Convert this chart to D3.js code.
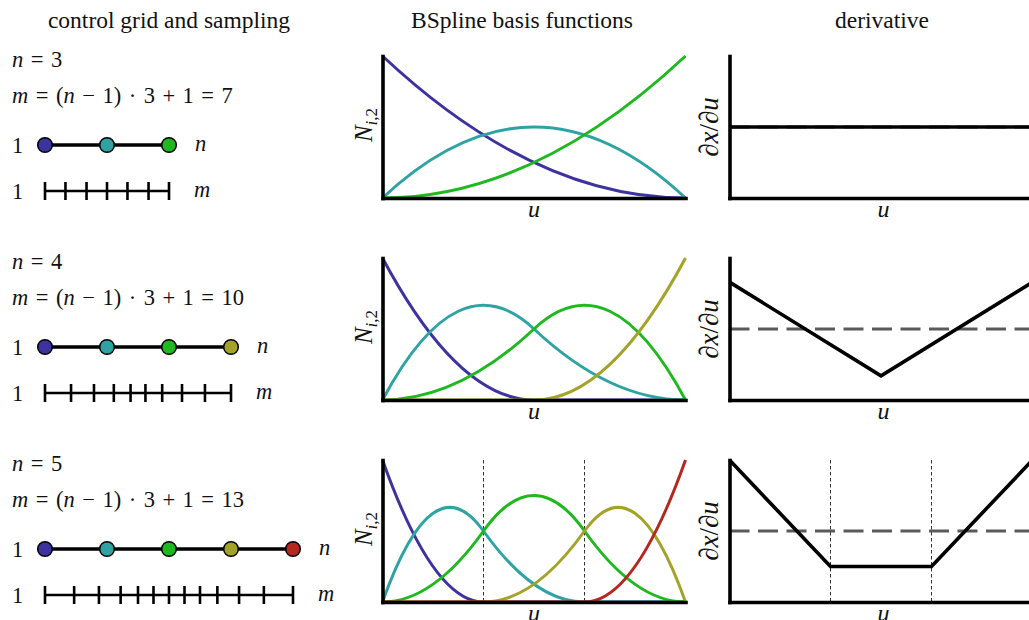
<!DOCTYPE html>
<html>
<head>
<meta charset="utf-8">
<script src="https://cdn.jsdelivr.net/npm/d3@7"></script>
<style>
  html, body { margin: 0; padding: 0; background: #ffffff; }
  svg { display: block; }
  text { font-family: "Liberation Serif", "DejaVu Serif", serif; fill: #111; white-space: pre; }
  .it { font-style: italic; }
</style>
</head>
<body>
<svg id="fig" width="1029" height="620"></svg>
<script>
// ---- chart values ----
const columnTitles = ["control grid and sampling", "BSpline basis functions", "derivative"];
const controlCounts = [3, 4, 5];
const sampleCounts = [7, 10, 13];
const pointColors = ["#3c33a1", "#2fa3a3", "#1fb81f", "#a3a32b", "#b5281f"];

// sample positions along the control grid (grid units, 0 .. n-1)
const samples3 = [0, 0.33, 0.67, 1, 1.33, 1.67, 2];
const samples4 = [0, 0.42, 0.79, 1.11, 1.38, 1.62, 1.89, 2.21, 2.58, 3];
const samples5 = [0, 0.47, 0.87, 1.22, 1.5, 1.75, 2, 2.25, 2.5, 2.78, 3.13, 3.53, 4];

// knot spans of the quadratic basis in u
const spans3 = [0, 1];
const spans4 = [0, 0.5, 1];
const spans5 = [0, 1 / 3, 2 / 3, 1];

// Bezier ordinates of every basis function N_{i,2}, one triple per span
const basis3 = [
  [[1, 0, 0]],
  [[0, 1, 0]],
  [[0, 0, 1]]
];
const basis4 = [
  [[1, 0, 0], [0, 0, 0]],
  [[0, 1, 0.5], [0.5, 0, 0]],
  [[0, 0, 0.5], [0.5, 1, 0]],
  [[0, 0, 0], [0, 0, 1]]
];
const basis5 = [
  [[1, 0, 0], [0, 0, 0], [0, 0, 0]],
  [[0, 1, 0.5], [0.5, 0, 0], [0, 0, 0]],
  [[0, 0, 0.5], [0.5, 1, 0.5], [0.5, 0, 0]],
  [[0, 0, 0], [0, 0, 0.5], [0.5, 1, 0]],
  [[0, 0, 0], [0, 0, 0], [0, 0, 1]]
];

// derivative dx/du relative to its mean, as [u, value]
const deriv3 = [[0, 1], [1, 1]];
const deriv4 = [[0, 1.33], [0.5, 0.67], [1, 1.33]];
const deriv5 = [[0, 1.5], [1 / 3, 0.75], [2 / 3, 0.75], [1, 1.5]];
const derivMean = 1;
const derivRange = [0.5, 1.5];

// interior knots marked with thin dotted lines
const marks3 = [];
const marks4 = [];
const marks5 = [1 / 3, 2 / 3];

const rows = [
  { n: controlCounts[0], m: sampleCounts[0], samples: samples3, spans: spans3, basis: basis3, deriv: deriv3, marks: marks3 },
  { n: controlCounts[1], m: sampleCounts[1], samples: samples4, spans: spans4, basis: basis4, deriv: deriv4, marks: marks4 },
  { n: controlCounts[2], m: sampleCounts[2], samples: samples5, spans: spans5, basis: basis5, deriv: deriv5, marks: marks5 }
];

// ---- layout ----
const svg = d3.select("#fig");
const rowTop = [56, 258, 460];
const plotH = 142;
const plotW = 303;
const midX0 = 382.5;
const rightX0 = 729.5;
const gridX0 = 45;
const gridStep = 62;
const spineW = 3.6;
const sp = "\u2004"; // slightly wider space around math operators

// column titles
const titleX = [169, 522, 882];
columnTitles.forEach((t, i) => {
  svg.append("text").attr("x", titleX[i]).attr("y", 28)
    .attr("text-anchor", "middle").attr("font-size", 23.5).text(t);
});

function mathLine(g, x, y, parts, size) {
  const t = g.append("text").attr("x", x).attr("y", y).attr("font-size", size);
  parts.forEach(p => {
    t.append("tspan").attr("class", p[1] ? "it" : null).text(p[0]);
  });
  return t;
}

function spines(g, x, y) {
  g.append("g").attr("transform", `translate(0,${plotH})`)
    .call(d3.axisBottom(x).tickValues([]).tickSizeOuter(0))
    .call(a => a.select(".domain").attr("stroke", "#000").attr("stroke-width", spineW).attr("stroke-linecap", "square"));
  g.append("g")
    .call(d3.axisLeft(y).tickValues([]).tickSizeOuter(0))
    .call(a => a.select(".domain").attr("stroke", "#000").attr("stroke-width", spineW).attr("stroke-linecap", "square"));
}

function basisPath(ordinates, spans, x, y) {
  const p = d3.path();
  ordinates.forEach((o, k) => {
    const a = spans[k], b = spans[k + 1];
    if (k === 0) p.moveTo(x(a), y(o[0]));
    p.quadraticCurveTo(x((a + b) / 2), y(o[1]), x(b), y(o[2]));
  });
  return p.toString();
}

rows.forEach((row, r) => {
  const T = rowTop[r];

  // ---- left column: control grid and sampling ----
  const left = svg.append("g");
  mathLine(left, 12, T + 11, [["n", true], [sp + "=" + sp + row.n, false]], 22.5);
  mathLine(left, 12, T + 47, [["m", true], [sp + "=" + sp + "(", false], ["n", true],
    [sp + "\u2212" + sp + "1)" + sp + "\u00b7" + sp + "3" + sp + "+" + sp + "1" + sp + "=" + sp + row.m, false]], 22.5);

  const gx = d3.scaleLinear().domain([0, row.n - 1]).range([gridX0, gridX0 + gridStep * (row.n - 1)]);
  const cy = T + 89;
  const ty = T + 135;

  left.append("text").attr("x", 12).attr("y", cy + 7.5).attr("font-size", 22.5).text("1");
  left.append("text").attr("x", 12).attr("y", ty + 7.5).attr("font-size", 22.5).text("1");

  left.append("line").attr("x1", gx(0)).attr("x2", gx(row.n - 1)).attr("y1", cy).attr("y2", cy)
    .attr("stroke", "#000").attr("stroke-width", 3.4);
  left.selectAll("circle.cp").data(d3.range(row.n)).join("circle")
    .attr("cx", d => gx(d)).attr("cy", cy).attr("r", 7.3)
    .attr("fill", d => pointColors[d]).attr("stroke", "#000").attr("stroke-width", 1.5);
  left.append("text").attr("class", "it").attr("x", gx(row.n - 1) + 26).attr("y", cy + 6)
    .attr("font-size", 22.5).text("n");

  left.append("line").attr("x1", gx(0)).attr("x2", gx(row.n - 1)).attr("y1", ty).attr("y2", ty)
    .attr("stroke", "#000").attr("stroke-width", 2.6);
  left.selectAll("line.tk").data(row.samples).join("line").attr("class", "tk")
    .attr("x1", d => gx(d)).attr("x2", d => gx(d)).attr("y1", ty - 9).attr("y2", ty + 9)
    .attr("stroke", "#000").attr("stroke-width", 2.6);
  left.append("text").attr("class", "it").attr("x", gx(row.n - 1) + 25).attr("y", ty + 6)
    .attr("font-size", 22.5).text("m");

  // ---- middle column: basis functions ----
  const mid = svg.append("g").attr("transform", `translate(${midX0},${T})`);
  const xm = d3.scaleLinear().domain([0, 1]).range([0, plotW]);
  const ym = d3.scaleLinear().domain([0, 1]).range([plotH, 0]);

  mid.selectAll("line.knot").data(row.marks).join("line").attr("class", "knot")
    .attr("x1", d => xm(d)).attr("x2", d => xm(d)).attr("y1", 0).attr("y2", plotH)
    .attr("stroke", "#333").attr("stroke-width", 1).attr("stroke-dasharray", "3.5,2.5");

  mid.selectAll("path.basis").data(row.basis).join("path").attr("class", "basis")
    .attr("d", d => basisPath(d, row.spans, xm, ym))
    .attr("fill", "none").attr("stroke", (d, i) => pointColors[i]).attr("stroke-width", 3);

  spines(mid, xm, ym);

  const nl = mid.append("text").attr("transform", `translate(-11,${plotH / 2 - 2}) rotate(-90)`)
    .attr("text-anchor", "middle").attr("font-size", 25);
  nl.append("tspan").attr("class", "it").text("N");
  nl.append("tspan").attr("class", "it").attr("font-size", 17).attr("dy", 5).text("i");
  nl.append("tspan").attr("font-size", 17).text(",2");

  mid.append("text").attr("class", "it").attr("x", plotW / 2).attr("y", plotH + 19)
    .attr("text-anchor", "middle").attr("font-size", 24).text("u");

  // ---- right column: derivative ----
  const rt = svg.append("g").attr("transform", `translate(${rightX0},${T})`);
  const xr = d3.scaleLinear().domain([0, 1]).range([0, plotW]);
  const yr = d3.scaleLinear().domain(derivRange).range([plotH, 0]);

  rt.selectAll("line.knot").data(row.marks).join("line").attr("class", "knot")
    .attr("x1", d => xr(d)).attr("x2", d => xr(d)).attr("y1", 0).attr("y2", plotH)
    .attr("stroke", "#333").attr("stroke-width", 1).attr("stroke-dasharray", "3.5,2.5");

  rt.append("line").attr("x1", xr(0)).attr("x2", xr(1)).attr("y1", yr(derivMean)).attr("y2", yr(derivMean))
    .attr("stroke", "#5a5a5a").attr("stroke-width", 3).attr("stroke-dasharray", "20,8.5");

  rt.append("path").datum(row.deriv)
    .attr("d", d3.line().x(d => xr(d[0])).y(d => yr(d[1])))
    .attr("fill", "none").attr("stroke", "#000").attr("stroke-width", 3.6);

  spines(rt, xr, yr);

  const dl = rt.append("text").attr("transform", `translate(-12,${plotH / 2}) rotate(-90)`)
    .attr("text-anchor", "middle").attr("font-size", 27);
  dl.append("tspan").text("\u2202");
  dl.append("tspan").attr("class", "it").text("x");
  dl.append("tspan").text("/\u2202");
  dl.append("tspan").attr("class", "it").text("u");

  rt.append("text").attr("class", "it").attr("x", 154).attr("y", plotH + 19)
    .attr("text-anchor", "middle").attr("font-size", 24).text("u");
});
</script>
</body>
</html>
